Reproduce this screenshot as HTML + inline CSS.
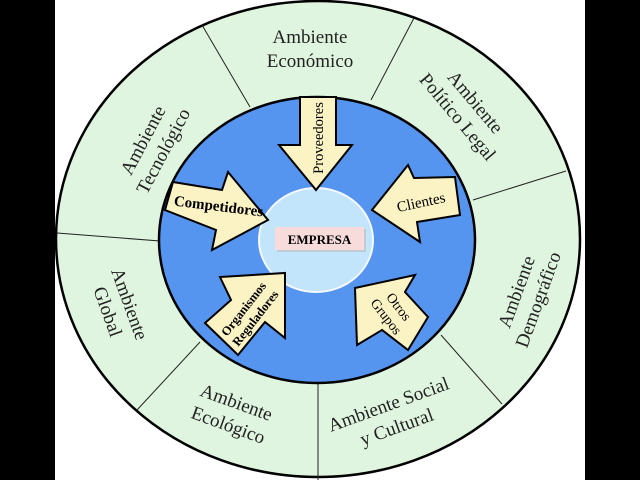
<!DOCTYPE html>
<html><head><meta charset="utf-8"><style>html,body{margin:0;padding:0;background:#000}svg{display:block}</style></head>
<body>
<svg width="640" height="480" viewBox="0 0 640 480" xmlns="http://www.w3.org/2000/svg" font-family="Liberation Serif, serif">
<rect x="0" y="0" width="640" height="480" fill="#000"/>
<rect x="55" y="0" width="530" height="480" fill="#fff"/>
<ellipse cx="318" cy="239" rx="262" ry="238" fill="#dff5df" stroke="#000" stroke-width="2.5"/>
<g stroke="#222" stroke-width="1">
<line x1="250" y1="107" x2="202" y2="25"/>
<line x1="371" y1="100" x2="414" y2="18"/>
<line x1="473" y1="200" x2="566" y2="171"/>
<line x1="57" y1="233" x2="160" y2="241"/>
<line x1="137" y1="410" x2="200" y2="342"/>
<line x1="318" y1="383" x2="318" y2="480"/>
<line x1="441" y1="335" x2="502" y2="404"/>
</g>
<ellipse cx="317" cy="240" rx="158" ry="143" fill="#5595f0" stroke="#000" stroke-width="2.5"/>
<ellipse cx="316" cy="240" rx="57" ry="52" fill="#c2e5fb" stroke="#f4f8ff" stroke-width="2"/>
<rect x="277" y="229" width="89" height="23" fill="#bbb" opacity="0.6"/>
<rect x="275" y="227" width="89" height="23" fill="#f8dcdc"/>
<text x="319.5" y="244" font-size="13" font-weight="bold" text-anchor="middle" fill="#000">EMPRESA</text>
<g fill="#fbf3c4" stroke="#000" stroke-width="2" stroke-linejoin="miter">
<polygon points="300,97 336,97 336,145 352,145 316,190 279,145 300,145"/>
<polygon points="173,182 222,190 228,172 268,220 212,250 216,230 165,210"/>
<polygon points="372,210 408,165 414,178 455,177 460,215 417,222 420,242"/>
<polygon points="285,273 285,338 265,322 238,355 205,323 231,300 220,277"/>
<polygon points="355,288 415,275 405,292 428,317 408,350 382,330 357,345"/>
</g>
<text transform="translate(323,138) rotate(-90)" font-size="14.5" text-anchor="middle" fill="#000">Proveedores</text>
<text transform="translate(218,211) rotate(7)" font-size="15" font-weight="bold" text-anchor="middle" fill="#000">Competidores</text>
<text transform="translate(422,207) rotate(-12)" font-size="15" text-anchor="middle" fill="#000">Clientes</text>
<g transform="translate(250,314) rotate(-52)" font-size="12.5" font-weight="bold" text-anchor="middle" fill="#000">
<text x="0" y="-4">Organismos</text><text x="0" y="11">Reguladores</text></g>
<g transform="translate(392,312) rotate(52)" font-size="14" text-anchor="middle" fill="#000">
<text x="0" y="-4">Otros</text><text x="0" y="12">Grupos</text></g>
<g font-size="19" fill="#222" text-anchor="middle">
<text x="310" y="43">Ambiente</text><text x="310" y="67">Económico</text>
<g transform="translate(466,110) rotate(50)"><text x="0" y="-6">Ambiente</text><text x="0" y="17">Político Legal</text></g>
<g transform="translate(152,145) rotate(-62)"><text x="0" y="-4">Ambiente</text><text x="0" y="19">Tecnológico</text></g>
<g transform="translate(118,308) rotate(70)"><text x="0" y="-6">Ambiente</text><text x="0" y="17">Global</text></g>
<g transform="translate(233,412) rotate(20)"><text x="0" y="-4">Ambiente</text><text x="0" y="20">Ecológico</text></g>
<g transform="translate(392,414) rotate(-20)"><text x="0" y="-4">Ambiente Social</text><text x="0" y="20">y Cultural</text></g>
<g transform="translate(528,296) rotate(-70)"><text x="0" y="-6">Ambiente</text><text x="0" y="17">Demográfico</text></g>
</g>
</svg>
</body></html>
